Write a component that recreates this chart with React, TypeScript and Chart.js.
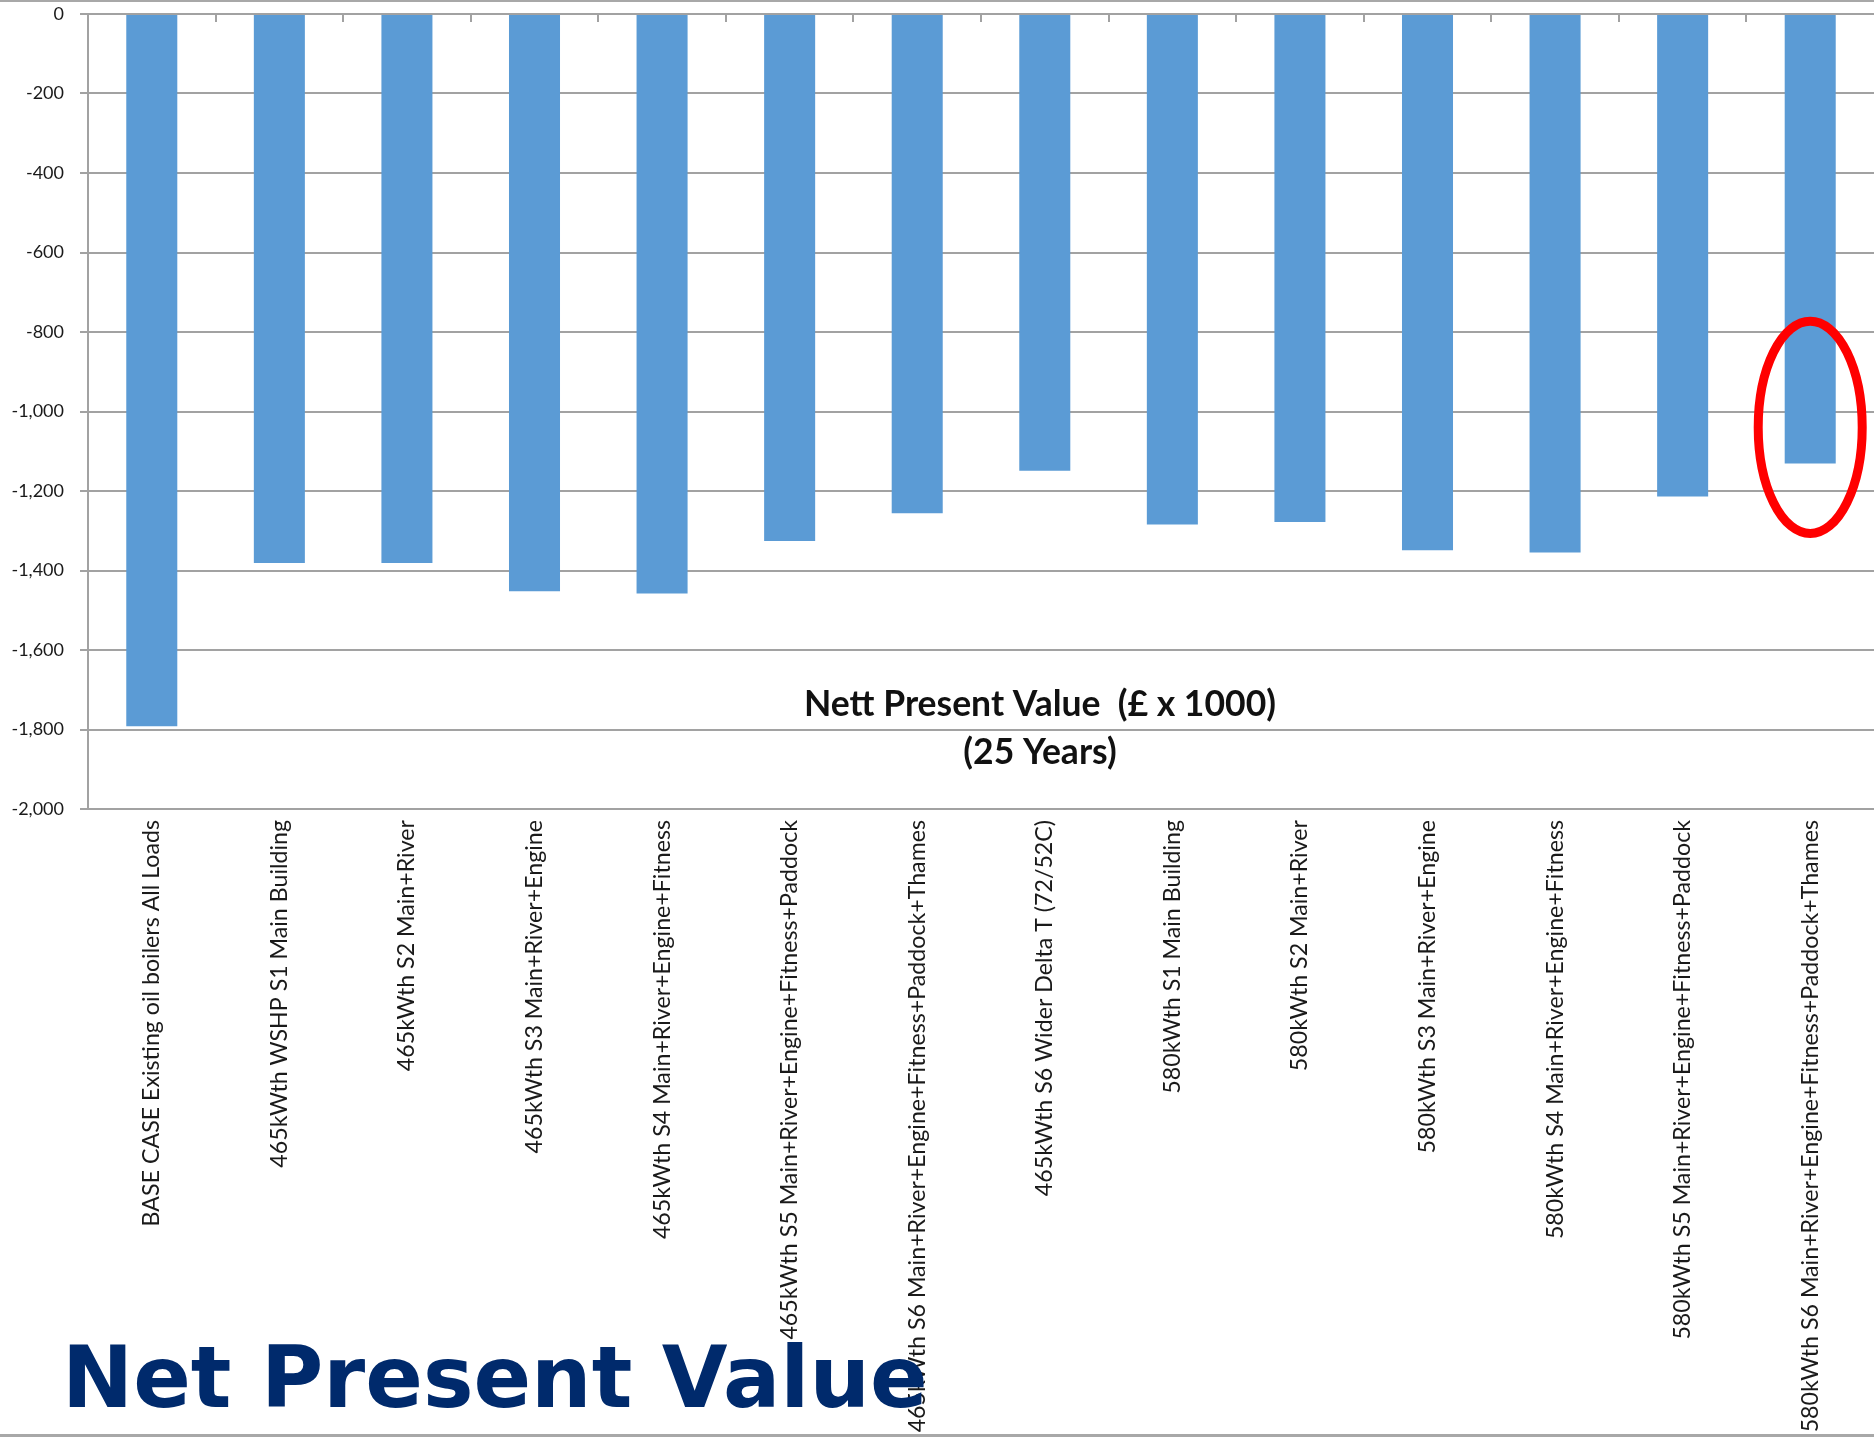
import React, { useEffect, useRef } from "react";
import { Chart, registerables } from "chart.js";

Chart.register(...registerables);

// Scenario names along the category axis
const scenarioLabels = [
  "BASE CASE Existing oil boilers All Loads",
  "465kWth WSHP S1 Main Building",
  "465kWth S2 Main+River",
  "465kWth S3 Main+River+Engine",
  "465kWth S4 Main+River+Engine+Fitness",
  "465kWth S5 Main+River+Engine+Fitness+Paddock",
  "465kWth S6 Main+River+Engine+Fitness+Paddock+Thames",
  "465kWth S6 Wider Delta T (72/52C)",
  "580kWth S1 Main Building",
  "580kWth S2 Main+River",
  "580kWth S3 Main+River+Engine",
  "580kWth S4 Main+River+Engine+Fitness",
  "580kWth S5 Main+River+Engine+Fitness+Paddock",
  "580kWth S6 Main+River+Engine+Fitness+Paddock+Thames",
];

// Nett present value over 25 years, in £ thousands
const npvThousands = [
  -1792, -1381, -1381, -1452, -1458, -1326, -1256, -1149, -1284, -1278, -1349,
  -1355, -1214, -1131,
];

// Value axis range and tick spacing
const axisMin = -2000;
const axisMax = 0;
const axisStep = 200;

const axisTitleLines = ["Nett Present Value  (£ x 1000)", "(25 Years)"];
const slideTitle = "Net Present Value";

// Scenario ringed in red, and the value the ring is centred on
const highlightedScenario = 13;
const highlightCentreValue = -1040;
const highlightHalfHeightValue = 267;

const WIDTH = 1874;
const HEIGHT = 1440;
const GRID = "#a2a2a2";
const BAR = "#5b9bd5";
const LABEL_FONT = "Lato";

const decorations = {
  id: "npvDecorations",
  afterDraw(chart: any) {
    const { ctx, chartArea, scales } = chart;
    const xs = scales.x;
    const ys = scales.y;
    ctx.save();

    // category divider ticks hanging from the zero line
    const zeroY = ys.getPixelForValue(0);
    const n = scenarioLabels.length;
    const step = (chartArea.right - chartArea.left) / n;
    ctx.strokeStyle = GRID;
    ctx.lineWidth = 2;
    for (let i = 1; i < n; i++) {
      const px = Math.round(chartArea.left + i * step);
      ctx.beginPath();
      ctx.moveTo(px, zeroY);
      ctx.lineTo(px, zeroY + 8);
      ctx.stroke();
    }

    // axis caption sitting inside the plot
    ctx.fillStyle = "#111";
    ctx.font = `bold 35.5px ${LABEL_FONT}`;
    ctx.textAlign = "center";
    ctx.textBaseline = "middle";
    const cx = chartArea.left + 952;
    ctx.fillText(axisTitleLines[0], cx, 705);
    ctx.fillText(axisTitleLines[1], cx, 753);

    // red ring around the highlighted scenario
    const ex = xs.getPixelForValue(highlightedScenario);
    const ey = ys.getPixelForValue(highlightCentreValue);
    const ry = Math.abs(
      ys.getPixelForValue(highlightCentreValue - highlightHalfHeightValue) - ey
    );
    ctx.strokeStyle = "#ff0000";
    ctx.lineWidth = 9;
    ctx.beginPath();
    ctx.ellipse(ex, ey, 52, ry, 0, 0, Math.PI * 2);
    ctx.stroke();

    // slide frame rules
    ctx.fillStyle = "#a8a8a8";
    ctx.fillRect(0, 0, chart.width, 2);
    ctx.fillRect(0, 1434, chart.width, 3);

    // slide heading
    ctx.fillStyle = "#002a6c";
    ctx.font = 'bold 85px "DejaVu Sans"';
    ctx.textAlign = "left";
    ctx.textBaseline = "alphabetic";
    ctx.fillText(slideTitle, 62, 1407);

    ctx.restore();
  },
};

export default function App() {
  const canvasRef = useRef<HTMLCanvasElement | null>(null);

  useEffect(() => {
    const canvas = canvasRef.current;
    if (!canvas) return;
    const chart = new Chart(canvas, {
      type: "bar",
      data: {
        labels: scenarioLabels,
        datasets: [
          {
            data: npvThousands,
            backgroundColor: BAR,
            borderWidth: 0,
            categoryPercentage: 1,
            barPercentage: 0.4,
          },
        ],
      },
      options: {
        animation: false,
        responsive: false,
        devicePixelRatio: 1,
        layout: { padding: { top: 14, left: 0, right: 0, bottom: 0 } },
        plugins: {
          legend: { display: false },
          tooltip: { enabled: false },
        },
        scales: {
          x: {
            type: "category",
            grid: { display: false, drawTicks: false },
            border: { display: false },
            ticks: {
              autoSkip: false,
              minRotation: 90,
              maxRotation: 90,
              padding: 11,
              color: "#1a1a1a",
              font: { family: LABEL_FONT, size: 23.2 },
            },
            afterFit(scale: any) {
              scale.height = 631;
            },
          },
          y: {
            min: axisMin,
            max: axisMax,
            ticks: {
              stepSize: axisStep,
              padding: 16,
              color: "#1a1a1a",
              font: { family: LABEL_FONT, size: 18 },
              callback: (v: any) => Number(v).toLocaleString("en-US"),
            },
            grid: {
              color: GRID,
              lineWidth: 2,
              drawTicks: true,
              tickLength: 8,
            },
            border: { display: true, color: GRID, width: 2 },
            afterFit(scale: any) {
              scale.width = 88;
              scale.paddingTop = 0;
              scale.paddingBottom = 0;
            },
          },
        },
      },
      plugins: [decorations],
    });
    return () => chart.destroy();
  }, []);

  return (
    <div
      style={{
        position: "absolute",
        left: 0,
        top: 0,
        width: WIDTH,
        height: HEIGHT,
        background: "#fff",
        overflow: "hidden",
      }}
    >
      <canvas
        ref={canvasRef}
        width={WIDTH}
        height={HEIGHT}
        style={{ display: "block", width: WIDTH, height: HEIGHT }}
      />
    </div>
  );
}
